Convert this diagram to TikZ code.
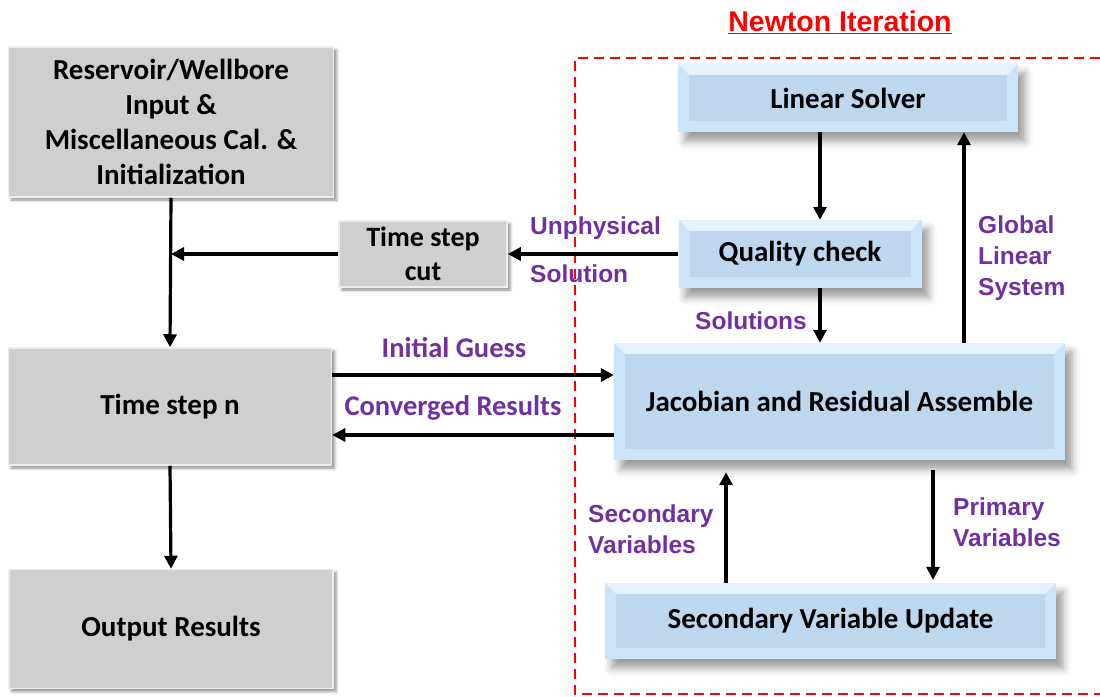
\documentclass[tikz,border=0pt]{standalone}
\usepackage{fontspec}
\setmainfont{Carlito}
\newfontfamily\arialf{Liberation Sans}
\usetikzlibrary{arrows.meta,shadows.blur}
\definecolor{boxgray}{HTML}{D0CECE}
\definecolor{grayedge}{HTML}{EDEDED}
\definecolor{bluefill}{HTML}{BDD7EE}
\definecolor{bluebevel}{HTML}{CCE4F8}
\definecolor{bluetop}{HTML}{E4F2FD}
\definecolor{labpurple}{HTML}{7030A0}
\definecolor{newtonred}{HTML}{FF0000}
\tikzset{
    box/.style={rectangle, inner sep=0pt, align=center, font=\fontsize{29}{35}\selectfont\bfseries},
    graybox/.style={box, fill=boxgray, draw=grayedge, line width=1.5pt,
        blur shadow={shadow xshift=3pt, shadow yshift=-3pt, shadow blur radius=3pt, shadow opacity=45}},
    bluebox/.style={box, fill=bluebevel,
        blur shadow={shadow xshift=7pt, shadow yshift=-9pt, shadow blur radius=8pt, shadow opacity=40},
        path picture={
            \fill[bluetop] (path picture bounding box.north west) -- (path picture bounding box.north east)
                -- ([shift={(-11pt,-11pt)}]path picture bounding box.north east)
                -- ([shift={(11pt,-11pt)}]path picture bounding box.north west) -- cycle;
            \fill[bluefill] ([shift={(11pt,-11pt)}]path picture bounding box.north west)
                rectangle ([shift={(-11pt,11pt)}]path picture bounding box.south east);}},
    arr/.style={line width=3.2pt, -{Triangle[length=13pt,width=13pt]}},
    plab/.style={text=labpurple, inner sep=0pt, font=\arialf\fontsize{24.5}{31}\selectfont\bfseries, align=left},
    clab/.style={text=labpurple, inner sep=0pt, font=\fontsize{28.5}{34}\selectfont\bfseries}
}
\begin{document}
\begin{tikzpicture}[x=1pt, y=-1pt]
    \useasboundingbox (0,0) rectangle (1100,696);
    % Newton iteration frame
    \draw[newtonred, line width=2pt, dash pattern=on 10pt off 6pt] (1100,58) -- (575,58) -- (575,694) -- (1100,694);
    \node[text=newtonred, font=\arialf\fontsize{28.5}{34}\selectfont\bfseries] (newton) at (840,22) {\underline{Newton Iteration}};

    % left column
    \node[graybox, minimum width=325, minimum height=150] (res) at (171,122) {Reservoir/Wellbore\\Input \&\\Miscellaneous Cal. \&\\Initialization};
    \node[graybox, minimum width=168, minimum height=66, font=\fontsize{28}{34}\selectfont\bfseries] (cut) at (423,254) {Time step\\cut};
    \node[graybox, minimum width=323, minimum height=117] (tsn) at (170,406.5) {Time step n};
    \node[graybox, minimum width=324, minimum height=119] (out) at (171,629) {Output Results};

    % Newton loop
    \node[bluebox, minimum width=340, minimum height=68] (lin) at (848,98) {Linear Solver};
    \node[bluebox, minimum width=243, minimum height=68] (qc) at (800,254) {Quality check};
    \node[bluebox, minimum width=451, minimum height=117] (jac) at (839.5,401.5) {Jacobian and Residual Assemble};
    \node[bluebox, minimum width=451, minimum height=76] (svu) at (830.5,621) {Secondary Variable Update};

    % labels
    \node[plab, anchor=west] (unph) at (530,228) {Unphysical};
    \node[plab, anchor=west] (soltn) at (530,274) {Solution};
    \node[plab, anchor=west] (glob) at (978,258) {Global\\Linear\\System};
    \node[plab, anchor=west] (solns) at (695,321) {Solutions};
    \node[clab] (guess) at (454,348) {Initial Guess};
    \node[clab] (conv) at (453,408) {Converged Results};
    \node[plab, anchor=west] (secv) at (588,529) {Secondary\\Variables};
    \node[plab, anchor=west] (primv) at (953,522) {Primary\\Variables};

    % connectors
    \draw[arr] (res.south) -- (tsn.north);
    \draw[arr] (cut.west) -- (cut.west -| res.south);
    \draw[arr] (tsn.south) -- (out.north);
    \draw[arr] (qc.west) -- (cut.east);
    \draw[arr] ([xshift=-28pt]lin.south) -- ([xshift=20pt]qc.north);
    \draw[arr] ([xshift=20pt]qc.south) -- ([xshift=-19.5pt]jac.north);
    \draw[arr] ([xshift=124.5pt]jac.north) -- ([xshift=116pt]lin.south);
    \draw[arr] ([yshift=31.5pt]tsn.east) -- ([yshift=26.5pt]jac.west);
    \draw[arr] ([yshift=-33.5pt]jac.west) -- ([yshift=-28.5pt]tsn.east);
    \draw[arr] ([xshift=-104.5pt]svu.north) -- ([xshift=-113.5pt,yshift=-12pt]jac.south);
    \draw[arr] ([xshift=93.5pt,yshift=-10pt]jac.south) -- ([xshift=102.5pt,yshift=3pt]svu.north);
\end{tikzpicture}
\end{document}
